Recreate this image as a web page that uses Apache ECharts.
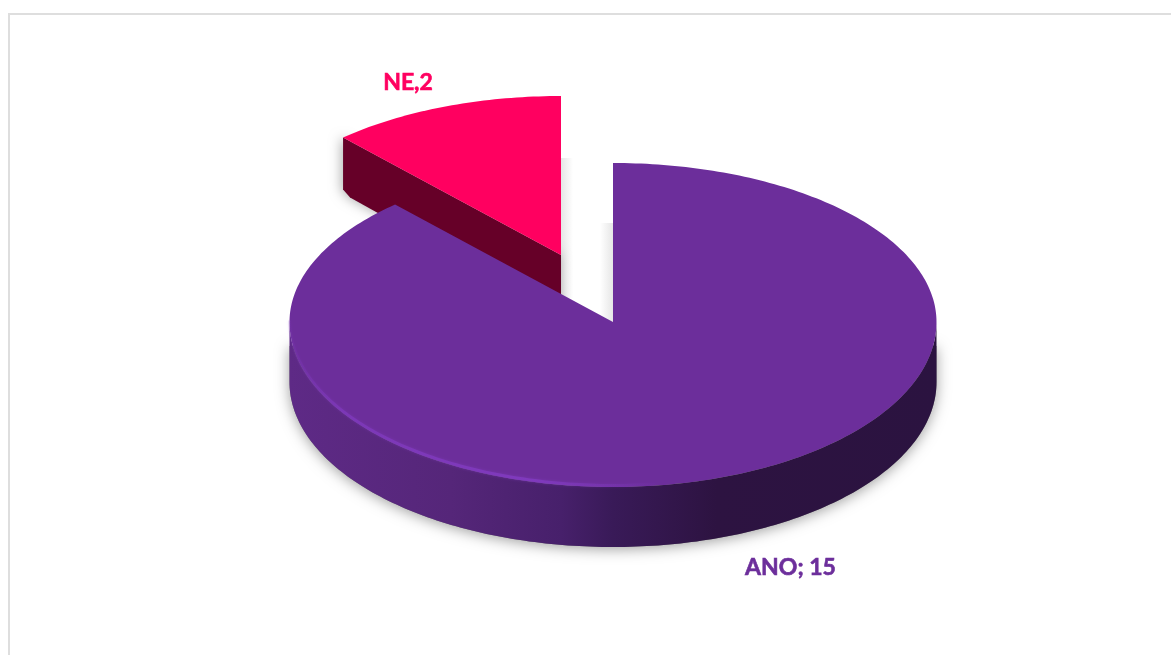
<!DOCTYPE html>
<html>
<head>
<meta charset="utf-8">
<style>html,body{margin:0;padding:0;background:#fff}#chart{width:1171px;height:655px}</style>
<script src="https://cdn.jsdelivr.net/npm/echarts@6/dist/echarts.min.js"></script>
</head>
<body>
<div id="chart"></div>
<script>
// Data (NE is drawn first so the large slice overlaps it, as in the picture)
var categories = ['NE', 'ANO'];
var values = [2, 15];
var labelTexts = ['NE,2', 'ANO; 15'];

// Pie geometry and look
var pie = { cx: 613, cy: 322, rx: 323.5, ryUp: 159, ryDown: 165, depth: 60 };
var sliceStyle = [
  { dx: -52, dy: -67, top: '#FF0060', wall: '#660028', labelColor: '#FF0060', labelX: 408, labelY: 83 },
  { dx: 0, dy: 0, top: '#6C2E9B', wall: null, labelColor: '#6C2E9B', labelX: 790.5, labelY: 567.5 }
];
var total = values.reduce(function (a, b) { return a + b; }, 0);
var startAngle = -values[0] / total * 360;

function pt(cx, cy, deg, drop) {
  var a = deg * Math.PI / 180, c = Math.cos(a);
  return [cx + pie.rx * Math.sin(a), cy - c * (c >= 0 ? pie.ryUp : pie.ryDown) + (drop || 0)];
}
function arc(cx, cy, from, to, drop) {
  var out = [], n = Math.max(2, Math.ceil(Math.abs(to - from)));
  for (var i = 0; i <= n; i++) out.push(pt(cx, cy, from + (to - from) * i / n, drop));
  return out;
}

function renderSlice(params, api) {
  var i = params.dataIndex, s = sliceStyle[i], sum = 0;
  for (var k = 0; k < i; k++) sum += values[k];
  var a0 = startAngle + sum / total * 360;
  var a1 = a0 + api.value(0) / total * 360;
  var cx = pie.cx + s.dx, cy = pie.cy + s.dy, d = pie.depth;
  var children = [];

  // outer wall on the front half
  var w0 = Math.max(a0, 90), w1 = Math.min(a1, 270);
  if (w1 > w0) {
    var lower = arc(cx, cy, w0, w1, d);
    // soft ground shadow
    children.push({
      type: 'polygon', silent: true,
      shape: { points: lower.concat([[cx - pie.rx, cy + 24], [cx + pie.rx, cy + 24]]) },
      style: { fill: '#777', shadowBlur: 14, shadowColor: 'rgba(0,0,0,0.38)', shadowOffsetY: 2 }
    });
    children.push({
      type: 'polygon', silent: true,
      shape: { points: arc(cx, cy, w0, w1, 0).concat(arc(cx, cy, w1, w0, d)) },
      style: {
        fill: {
          type: 'linear', x: 0, y: 0, x2: 1, y2: 0,
          colorStops: [
            { offset: 0, color: '#5E2A86' }, { offset: 0.25, color: '#552679' },
            { offset: 0.42, color: '#47206B' }, { offset: 0.5, color: '#391A58' },
            { offset: 0.66, color: '#2D1341' }, { offset: 1, color: '#2B1340' }
          ]
        }
      }
    });
  }
  // cut face of the slice, when it looks toward the viewer
  if (Math.sin(a0 * Math.PI / 180) < -0.01) {
    var e = pt(cx, cy, a0, 0);
    children.push({
      type: 'polygon', silent: true,
      shape: { points: [[cx, cy], e, [e[0], e[1] + d - 8], [e[0] + 7, e[1] + d], [cx, cy + d]] },
      style: { fill: s.wall, shadowBlur: 12, shadowColor: 'rgba(0,0,0,0.3)', shadowOffsetX: -2 }
    });
  }
  // top surface
  children.push({
    type: 'polygon', silent: true,
    shape: { points: [[cx, cy]].concat(arc(cx, cy, a0, a1, 0)) },
    style: { fill: s.top }
  });
  // light rim at the lower-left edge
  if (w1 > w0) {
    children.push({
      type: 'polyline', silent: true,
      shape: { points: arc(cx, cy, Math.max(w0, 172), w1, -1.5) },
      style: {
        fill: null, lineWidth: 3,
        shadowBlur: 3, shadowColor: 'rgba(128,58,190,0.6)',
        stroke: {
          type: 'linear', x: 1, y: 0, x2: 0, y2: 0,
          colorStops: [
            { offset: 0, color: 'rgba(128,58,190,0)' }, { offset: 0.35, color: 'rgba(128,58,190,0.95)' },
            { offset: 0.85, color: 'rgba(128,58,190,0.7)' }, { offset: 1, color: 'rgba(128,58,190,0.1)' }
          ]
        }
      }
    });
  }
  // label
  children.push({
    type: 'text', silent: true,
    style: {
      x: s.labelX, y: s.labelY, text: labelTexts[i], fill: s.labelColor,
      stroke: s.labelColor, lineWidth: 0.6,
      font: 'bold 23px Lato', align: 'center', verticalAlign: 'middle'
    }
  });
  return { type: 'group', children: children };
}

function strip(x, y, w, h, c0, c1) {
  return {
    type: 'rect', silent: true, shape: { x: x, y: y, width: w, height: h },
    style: { fill: { type: 'linear', x: 0, y: 0, x2: 1, y2: 0,
      colorStops: [{ offset: 0, color: c0 }, { offset: 1, color: c1 }] } }
  };
}

var chart = echarts.init(document.getElementById('chart'), null, { renderer: 'canvas' });
chart.setOption({
  animation: false,
  backgroundColor: '#fff',
  tooltip: { show: false },
  graphic: [
    { type: 'rect', silent: true, shape: { x: 8, y: 13, width: 1163, height: 2 }, style: { fill: '#DEDEDE' } },
    { type: 'rect', silent: true, shape: { x: 8, y: 13, width: 2, height: 642 }, style: { fill: '#DEDEDE' } },
    strip(561, 158, 12, 140, '#E6E6E6', '#FFFFFF'),
    strip(600, 223, 13, 100, '#FFFFFF', '#E6E6E6')
  ],
  series: [{
    type: 'custom',
    coordinateSystem: 'none',
    silent: true,
    renderItem: renderSlice,
    data: categories.map(function (c, i) { return { name: c, value: [values[i]] }; })
  }]
});
</script>
</body>
</html>
